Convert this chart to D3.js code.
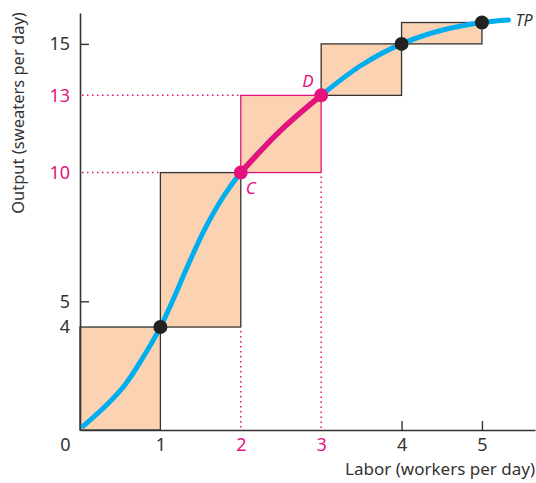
<!DOCTYPE html>
<html>
<head>
<meta charset="utf-8">
<script src="https://cdn.jsdelivr.net/npm/d3@7"></script>
<style>
  body { margin: 0; background: #fff; }
  text { font-family: "Noto Sans", "DejaVu Sans", sans-serif; }
</style>
</head>
<body>
<div id="chart"></div>
<script>
      // data
      var labor = [0, 1, 2, 3, 4, 5];
      var output = [0, 4, 10, 13, 15, 15.83];
      var curveX = [0.04, 0.34, 0.57, 0.77, 1, 1.17, 1.35, 1.56, 1.79, 2, 2.5, 3, 3.5, 4, 4.5, 5, 5.33];
      var curveY = [0.15, 1.0, 1.8, 2.75, 4, 5.15, 6.45, 7.85, 9.1, 10, 11.65, 13, 14.17, 15, 15.53, 15.83, 15.93];
      var xTicks = [0, 1, 2, 3, 4, 5];
      var yTicks = [0, 4, 5, 10, 13, 15];
      var highlightX = [2, 3];
      var highlightY = [10, 13];

      var pink = "#e5127d", blue = "#00aeef", peach = "#fcd3b2", ink = "#333";

      var margin = {top: 13, right: 1, bottom: 53, left: 80};
      var width = 536 - margin.left - margin.right,
          height = 483 - margin.top - margin.bottom;

      var svg = d3.select("#chart").append("svg")
          .attr("width", 536).attr("height", 483);
      var canvas = svg.append("g")
          .attr("transform", "translate(" + margin.left + "," + margin.top + ")");

      var xScale = d3.scaleLinear().domain([0, 5.66]).range([0, width]);
      var yScale = d3.scaleLinear().domain([0, 16.2]).range([height, 0]);

      function isPink(v, list) { return list.indexOf(v) >= 0; }

      // dotted guide lines
      var guides = canvas.append("g")
          .attr("stroke", pink).attr("stroke-width", 1.5)
          .attr("stroke-dasharray", "1.5,3.5");
      guides.append("line")
          .attr("x1", 2).attr("x2", xScale(1))
          .attr("y1", yScale(10)).attr("y2", yScale(10));
      guides.append("line")
          .attr("x1", 2).attr("x2", xScale(2))
          .attr("y1", yScale(13)).attr("y2", yScale(13));
      guides.append("line")
          .attr("x1", xScale(2)).attr("x2", xScale(2))
          .attr("y1", yScale(4) + 4).attr("y2", height);
      guides.append("line")
          .attr("x1", xScale(3)).attr("x2", xScale(3))
          .attr("y1", yScale(10) + 4).attr("y2", height);

      // step boxes
      var boxes = d3.range(labor.length - 1).map(function(i) {
          return {x0: labor[i], x1: labor[i + 1], y0: output[i], y1: output[i + 1]};
      });
      canvas.append("g").selectAll("rect")
          .data(boxes)
          .enter().append("rect")
          .attr("x", function(d) { return xScale(d.x0); })
          .attr("y", function(d) { return yScale(d.y1); })
          .attr("width", function(d) { return xScale(d.x1) - xScale(d.x0); })
          .attr("height", function(d) { return yScale(d.y0) - yScale(d.y1); })
          .attr("fill", peach)
          .attr("stroke", function(d) { return d.x0 == 2 ? pink : ink; })
          .attr("stroke-width", 1.3);

      // axes
      var xAxis = d3.axisBottom(xScale).tickValues(xTicks).tickSize(0).tickPadding(8)
          .tickFormat(d3.format("d"));
      var gx = canvas.append("g")
          .attr("transform", "translate(0," + height + ")")
          .call(xAxis);
      gx.select(".domain").attr("stroke", ink).attr("stroke-width", 1.6);
      gx.selectAll(".tick text")
          .attr("font-size", 18)
          .attr("fill", function(d) { return isPink(d, highlightX) ? pink : ink; });
      gx.selectAll(".tick").filter(function(d) { return d == 0; })
          .select("text").attr("dx", -15);
      canvas.append("g")
          .attr("transform", "translate(0," + height + ")")
          .call(d3.axisTop(xScale).tickValues([4, 5]).tickSize(9).tickFormat(""))
          .call(function(g) {
              g.select(".domain").remove();
              g.selectAll("line").attr("stroke", ink).attr("stroke-width", 1.4);
          });

      var yAxis = d3.axisLeft(yScale).tickValues(yTicks.filter(function(d) { return d > 0; }))
          .tickSize(0).tickPadding(10);
      var gy = canvas.append("g").call(yAxis);
      gy.select(".domain").attr("stroke", ink).attr("stroke-width", 1.6);
      gy.selectAll(".tick text")
          .attr("font-size", 18)
          .attr("fill", function(d) { return isPink(d, highlightY) ? pink : ink; });
      canvas.append("g")
          .call(d3.axisRight(yScale).tickValues([5, 15]).tickSize(9).tickFormat(""))
          .call(function(g) {
              g.select(".domain").remove();
              g.selectAll("line").attr("stroke", ink).attr("stroke-width", 1.4);
          });

      // TP curve
      var pts = curveX.map(function(x, i) { return [x, curveY[i]]; });
      var line = d3.line()
          .x(function(d) { return xScale(d[0]); })
          .y(function(d) { return yScale(d[1]); })
          .curve(d3.curveCatmullRom);
      canvas.append("path")
          .attr("d", line(pts))
          .attr("fill", "none").attr("stroke", blue)
          .attr("stroke-width", 5).attr("stroke-linecap", "round");
      canvas.append("path")
          .attr("d", line(pts.filter(function(d) { return d[0] >= 2 && d[0] <= 3; })))
          .attr("fill", "none").attr("stroke", pink)
          .attr("stroke-width", 5.5);

      // points
      canvas.append("g").selectAll("circle")
          .data(labor.map(function(x, i) { return {x: x, y: output[i]}; })
                     .filter(function(d) { return d.x > 0; }))
          .enter().append("circle")
          .attr("cx", function(d) { return xScale(d.x); })
          .attr("cy", function(d) { return yScale(d.y); })
          .attr("r", 7)
          .attr("fill", function(d) { return isPink(d.x, highlightX) ? pink : "#222"; });

      // labels
      canvas.append("text")
          .attr("x", xScale(2) + 5).attr("y", yScale(10) + 21)
          .attr("font-size", 17).attr("font-style", "italic").attr("fill", pink)
          .text("C");
      canvas.append("text")
          .attr("x", xScale(3) - 19).attr("y", yScale(13) - 8)
          .attr("font-size", 17).attr("font-style", "italic").attr("fill", pink)
          .text("D");
      canvas.append("text")
          .attr("x", xScale(5.33) + 7).attr("y", yScale(15.93) + 6)
          .attr("font-size", 16).attr("font-style", "italic").attr("fill", ink)
          .text("TP");

      svg.append("text")
          .attr("x", 535).attr("y", 475)
          .attr("text-anchor", "end").attr("font-size", 17).attr("fill", ink)
          .text("Labor (workers per day)");
      svg.append("text")
          .attr("transform", "translate(24,113) rotate(-90)")
          .attr("text-anchor", "middle").attr("font-size", 16.5).attr("fill", ink)
          .text("Output (sweaters per day)");
</script>
</body>
</html>
